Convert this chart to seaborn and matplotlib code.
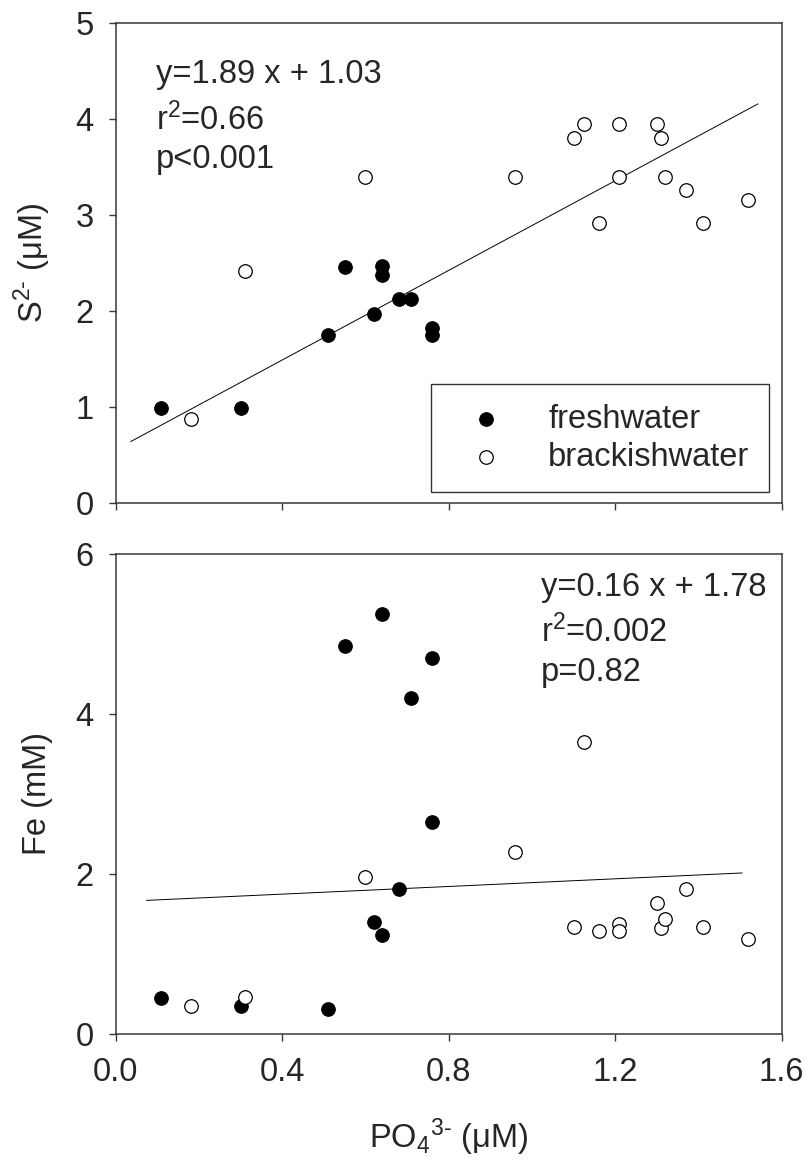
"""
S2- and Fe versus PO4 3- in freshwater and brackish water sediments.
"""

import numpy as np
import pandas as pd
import matplotlib
matplotlib.use('Agg')
import matplotlib.pyplot as plt
import seaborn as sns

# ---- data ----
fresh_po4_top = [0.11, 0.30, 0.51, 0.55, 0.62, 0.64, 0.64, 0.68, 0.71, 0.76, 0.76]
fresh_s2 = [0.99, 0.99, 1.75, 2.46, 1.97, 2.47, 2.37, 2.12, 2.12, 1.82, 1.75]

brack_po4_top = [0.18, 0.31, 0.60, 0.96, 1.10, 1.125, 1.16, 1.21, 1.21, 1.30, 1.31,
                 1.32, 1.37, 1.41, 1.52]
brack_s2 = [0.87, 2.41, 3.39, 3.39, 3.80, 3.94, 2.91, 3.39, 3.94, 3.94, 3.80,
            3.39, 3.26, 2.91, 3.15]

fresh_po4_bot = [0.11, 0.30, 0.51, 0.55, 0.62, 0.64, 0.64, 0.68, 0.71, 0.76, 0.76]
fresh_fe = [0.44, 0.35, 0.31, 4.85, 1.40, 5.25, 1.23, 1.81, 4.20, 2.65, 4.70]

brack_po4_bot = [0.18, 0.31, 0.60, 0.96, 1.10, 1.125, 1.16, 1.21, 1.21, 1.30, 1.31,
                 1.32, 1.37, 1.41, 1.52]
brack_fe = [0.34, 0.46, 1.96, 2.27, 1.33, 3.65, 1.29, 1.37, 1.28, 1.64, 1.32,
            1.43, 1.81, 1.33, 1.18]

# regression lines as drawn in the figure
fit_top_x = [0.036, 1.543]
fit_top_y = [0.636, 4.154]
fit_bot_x = [0.074, 1.505]
fit_bot_y = [1.667, 2.010]

top_text = ['y=1.89 x + 1.03', r'r$^{\mathsf{2}}$=0.66', 'p<0.001']
bot_text = ['y=0.16 x + 1.78', r'r$^{\mathsf{2}}$=0.002', 'p=0.82']

x_ticks = [0.0, 0.4, 0.8, 1.2, 1.6]
top_yticks = [0, 1, 2, 3, 4, 5]
bot_yticks = [0, 2, 4, 6]

df_top = pd.DataFrame({
    'PO4': fresh_po4_top + brack_po4_top,
    'val': fresh_s2 + brack_s2,
    'type': ['freshwater'] * len(fresh_s2) + ['brackishwater'] * len(brack_s2),
})
df_bot = pd.DataFrame({
    'PO4': fresh_po4_bot + brack_po4_bot,
    'val': fresh_fe + brack_fe,
    'type': ['freshwater'] * len(fresh_fe) + ['brackishwater'] * len(brack_fe),
})

# ---- style ----
sns.set_style('ticks')
plt.rcParams['font.family'] = ['Liberation Sans', 'DejaVu Sans']
plt.rcParams['mathtext.fontset'] = 'custom'
plt.rcParams['mathtext.rm'] = 'Liberation Sans'
plt.rcParams['mathtext.sf'] = 'Liberation Sans'
plt.rcParams['mathtext.it'] = 'Liberation Sans'
plt.rcParams['mathtext.default'] = 'regular'

FS = 23.5
spine_col = '#383838'

fig = plt.figure(figsize=(8.09, 11.63), dpi=100)
ax1 = fig.add_axes([0.1430, 0.5678, 0.8232, 0.4127])
ax2 = fig.add_axes([0.1430, 0.1112, 0.8232, 0.4125])


def draw_points(ax, df):
    fr = df[df['type'] == 'freshwater']
    br = df[df['type'] == 'brackishwater']
    sns.scatterplot(data=fr, x='PO4', y='val', ax=ax, color='black',
                    edgecolor='black', linewidth=0.8, s=95, marker='o',
                    label='freshwater', zorder=3)
    sns.scatterplot(data=br, x='PO4', y='val', ax=ax, facecolor='white',
                    edgecolor='black', linewidth=0.9, s=95, marker='o',
                    label='brackishwater', zorder=3)


def style_axis(ax, yticks, show_xlabels):
    ax.set_xlim(0, 1.6)
    ax.set_ylim(yticks[0], yticks[-1])
    ax.set_xticks(x_ticks)
    ax.set_yticks(yticks)
    if show_xlabels:
        ax.set_xticklabels([f'{t:.1f}' for t in x_ticks])
    else:
        ax.set_xticklabels([])
    ax.tick_params(axis='both', direction='out', length=5, width=1.0,
                   color=spine_col, labelsize=FS, top=False, right=False)
    ax.tick_params(axis='x', pad=12)
    ax.tick_params(axis='y', pad=11)
    for sp in ax.spines.values():
        sp.set_visible(True)
        sp.set_color(spine_col)
        sp.set_linewidth(1.1)


# top panel: S2-
draw_points(ax1, df_top)
sns.lineplot(x=fit_top_x, y=fit_top_y, ax=ax1, color='black', linewidth=0.7,
             legend=False, zorder=2)
style_axis(ax1, top_yticks, False)
ax1.set_xlabel('')
ax1.set_ylabel(r'S$^{\mathsf{2\text{-}}}$ ($\mu$M)', fontsize=FS, labelpad=16)
for txt, yy in zip(top_text, [0.874, 0.776, 0.697]):
    ax1.text(0.061, yy, txt, transform=ax1.transAxes, fontsize=FS,
             ha='left', va='baseline')
leg = ax1.legend(loc='lower right', bbox_to_anchor=(0.981, 0.022),
                 borderaxespad=0, fontsize=FS, frameon=True, fancybox=False,
                 edgecolor='black', handlelength=2.2, handletextpad=0.8,
                 borderpad=0.6, labelspacing=0.2, markerscale=1.0)
leg.get_frame().set_linewidth(1.0)

# bottom panel: Fe
draw_points(ax2, df_bot)
sns.lineplot(x=fit_bot_x, y=fit_bot_y, ax=ax2, color='black', linewidth=0.7,
             legend=False, zorder=2)
style_axis(ax2, bot_yticks, True)
ax2.get_legend().remove()
ax2.set_xlabel(r'PO$_{\mathsf{4}}$$^{\mathsf{3\text{-}}}$ ($\mu$M)', fontsize=FS, labelpad=20)
ax2.set_ylabel('Fe (mM)', fontsize=FS, labelpad=16)
for txt, yy in zip(bot_text, [0.913, 0.816, 0.736]):
    ax2.text(0.6386, yy, txt, transform=ax2.transAxes, fontsize=FS,
             ha='left', va='baseline')

fig.savefig('out.png', dpi=100)
print('saved out.png')
